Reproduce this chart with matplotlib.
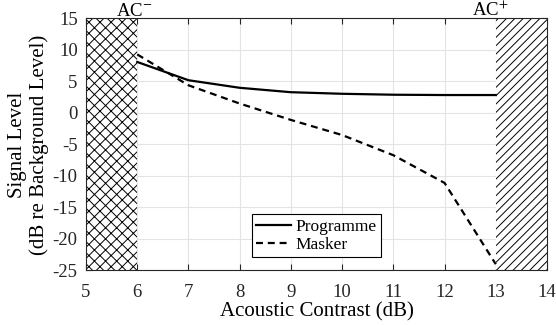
import matplotlib
matplotlib.use("Agg")
import matplotlib.pyplot as plt

plt.rcParams['font.family'] = ['Liberation Serif', 'DejaVu Serif']
plt.rcParams['mathtext.fontset'] = 'stix'
plt.rcParams['axes.unicode_minus'] = False
plt.rcParams['hatch.linewidth'] = 0.7
plt.rcParams['lines.scale_dashes'] = False

### data ###
contrast = [6, 7, 8, 9, 10, 11, 12, 13]
programme = [8.1, 5.2, 4.0, 3.3, 3.05, 2.9, 2.85, 2.85]
masker = [9.3, 4.4, 1.5, -1.1, -3.5, -6.7, -11.1, -24.0]

xTicks = [5, 6, 7, 8, 9, 10, 11, 12, 13, 14]
yTicks = [15, 10, 5, 0, -5, -10, -15, -20, -25]

acMin = 6
acMax = 13

fs = 13.5      # tick labels
fsLab = 15     # axis labels (a bit bigger, MATLAB style)

fig = plt.figure(figsize=(5.56, 3.25), dpi=100)
ax = fig.add_axes([0.1547, 0.1677, 0.8291, 0.7754])

### hatched regions outside the usable contrast range ###
ax.axvspan(5, acMin, facecolor='white', edgecolor='black', hatch='xxx', linewidth=0, zorder=2)
ax.axvspan(acMax, 14, facecolor='white', edgecolor='black', hatch='////', linewidth=0, zorder=2)

ax.plot(contrast, programme, color='black', linewidth=1.6, label='Programme', zorder=3)
ax.plot(contrast, masker, color='black', linewidth=1.6, dashes=(5, 3.5), label='Masker', zorder=3)

ax.set_xlim(5, 14)
ax.set_ylim(-25, 15)
ax.set_xticks(xTicks)
ax.set_yticks(yTicks)
ax.grid(True, color='#e3e3e3', linewidth=0.8, zorder=0)
ax.set_axisbelow(True)

ax.tick_params(direction='in', top=True, right=True, labelsize=fs, colors='#262626', length=4)
ax.tick_params(axis='x', pad=9.5)
ax.tick_params(axis='y', pad=6)
for s in ax.spines.values():
    s.set_color('#262626')
    s.set_linewidth(0.8)
    s.set_zorder(4)

ax.set_xlabel('Acoustic Contrast (dB)', fontsize=fsLab, labelpad=1)
ax.set_ylabel('Signal Level\n(dB re Background Level)', fontsize=fsLab, linespacing=1.15, labelpad=3)

ax.text(acMin - 0.05, 14.8, 'AC$^{-}$', ha='center', va='bottom', fontsize=fs)
ax.text(acMax - 0.1, 14.8, 'AC$^{+}$', ha='center', va='bottom', fontsize=fs)

leg = ax.legend(loc='lower center', bbox_to_anchor=(0.5, 0.04), fontsize=12.5,
                fancybox=False, edgecolor='black', framealpha=1, handlelength=2.0,
                borderpad=0.25, labelspacing=0.1, handletextpad=0.3, borderaxespad=0.2)
leg.get_frame().set_linewidth(0.8)

fig.savefig('out.png', dpi=100)
